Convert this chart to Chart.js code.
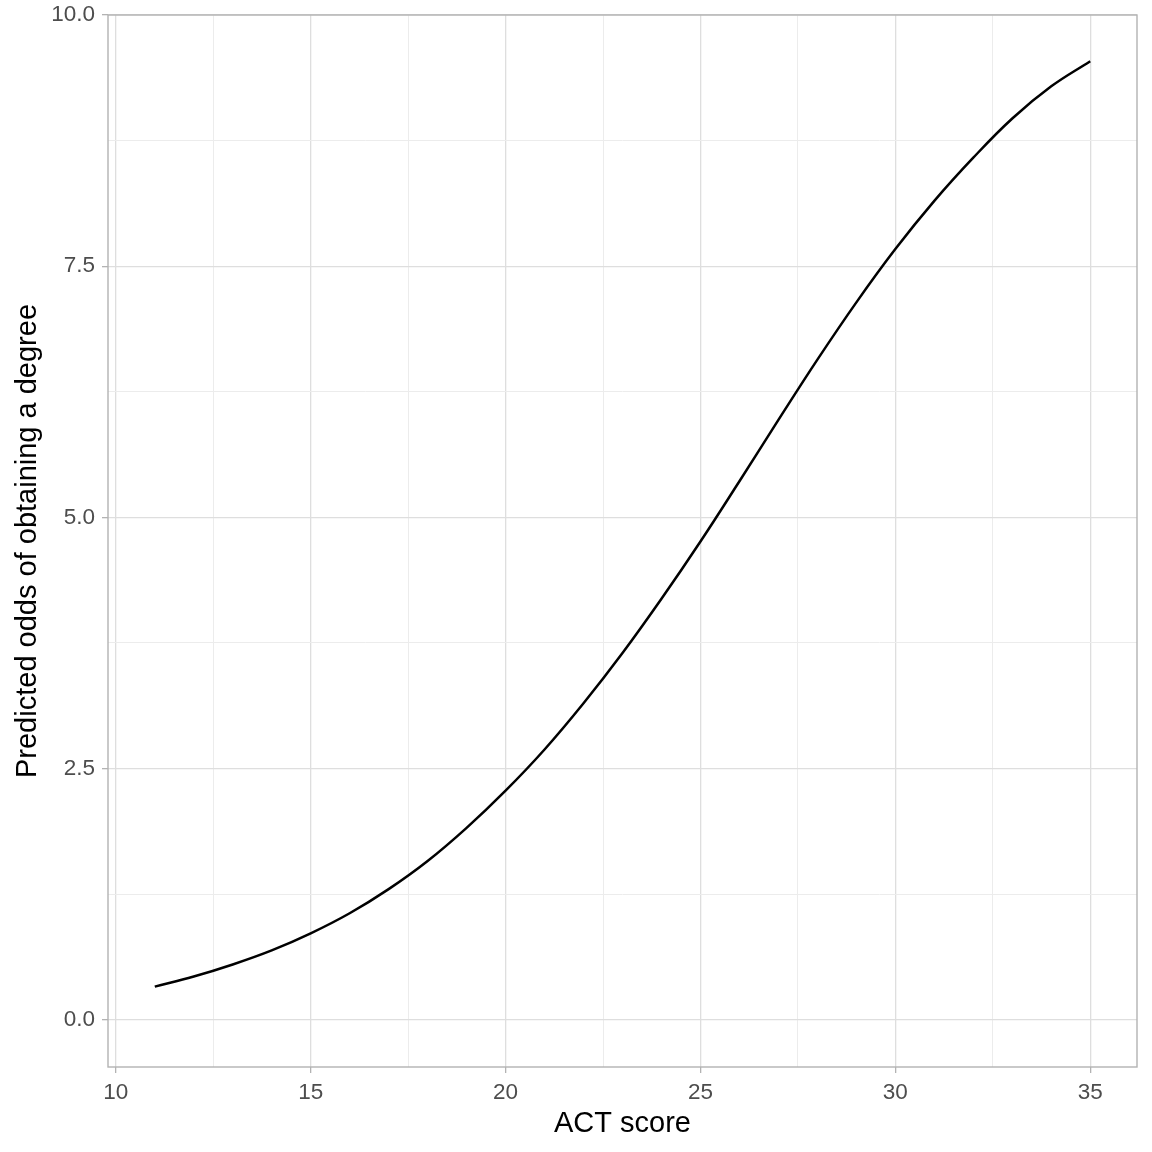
<!DOCTYPE html>
<html>
<head>
<meta charset="utf-8">
<script src="https://cdn.jsdelivr.net/npm/chart.js@4/dist/chart.umd.min.js"></script>
<style>
  html, body { margin: 0; padding: 0; background: #fff; }
  canvas { display: block; }
</style>
</head>
<body>
<canvas id="chart" width="1152" height="1152"></canvas>
<script>
// ACT score vs predicted odds
const actScores = [11, 12, 13, 14, 15, 16, 17, 18, 19, 20, 21, 22, 23, 24, 25, 26, 27, 28, 29, 30, 31, 32, 33, 34, 35];
const predictedOdds = [0.33, 0.43, 0.55, 0.69, 0.86, 1.06, 1.30, 1.58, 1.91, 2.28, 2.69, 3.15, 3.65, 4.19, 4.76, 5.36, 5.97, 6.57, 7.14, 7.67, 8.15, 8.58, 8.97, 9.29, 9.54];

const xTicks = [10, 12.5, 15, 17.5, 20, 22.5, 25, 27.5, 30, 32.5, 35];
const xMajor = [10, 15, 20, 25, 30, 35];
const yTicks = [0, 1.25, 2.5, 3.75, 5, 6.25, 7.5, 8.75, 10];
const yMajor = [0, 2.5, 5, 7.5, 10];

const xTitle = 'ACT score';
const yTitle = 'Predicted odds of obtaining a degree';

const MAJOR = '#dedede', MINOR = '#ececec', FRAME = '#b3b3b3', TEXT = '#4d4d4d';
const FONT = 'Liberation Sans, Arial, sans-serif';
const isMajor = (list, v) => list.some((m) => Math.abs(m - v) < 1e-9);

// panel frame (border on all four sides)
const framePlugin = {
  id: 'frame',
  afterDraw(chart) {
    const { ctx, chartArea: a } = chart;
    ctx.save();
    ctx.strokeStyle = FRAME;
    ctx.lineWidth = 1.4;
    ctx.strokeRect(a.left, a.top, a.right - a.left, a.bottom - a.top);
    ctx.restore();
  },
};

const gridFor = (major) => ({
  color: (c) => isMajor(major, c.tick.value) ? MAJOR : MINOR,
  lineWidth: (c) => isMajor(major, c.tick.value) ? 1.3 : 1,
  tickColor: (c) => isMajor(major, c.tick.value) ? FRAME : 'rgba(0,0,0,0)',
  tickLength: 6,
  tickWidth: 1.3,
  drawTicks: true,
});

new Chart(document.getElementById('chart'), {
  type: 'line',
  data: {
    datasets: [{
      data: actScores.map((x, i) => ({ x, y: predictedOdds[i] })),
      borderColor: '#000000',
      borderWidth: 2.5,
      pointRadius: 0,
      fill: false,
      tension: 0.4,
    }],
  },
  options: {
    responsive: false,
    devicePixelRatio: 1,
    animation: false,
    layout: { padding: { top: 15, right: 15, left: 0, bottom: 0 } },
    plugins: { legend: { display: false }, tooltip: { enabled: false } },
    scales: {
      x: {
        type: 'linear',
        min: 9.8,
        max: 36.2,
        afterBuildTicks: (s) => { s.ticks = xTicks.map((value) => ({ value })); },
        afterFit: (s) => { s.height = 85; s.paddingLeft = 0; s.paddingRight = 0; },
        grid: gridFor(xMajor),
        border: { display: false },
        ticks: {
          autoSkip: false,
          maxRotation: 0,
          padding: 6,
          color: TEXT,
          font: { family: FONT, size: 22.5 },
          callback: (v) => isMajor(xMajor, v) ? String(v) : '',
        },
        title: {
          display: true,
          text: xTitle,
          color: '#000000',
          font: { family: FONT, size: 29 },
          padding: { top: 0, bottom: 11 },
        },
      },
      y: {
        type: 'linear',
        min: -0.47,
        max: 10,
        afterBuildTicks: (s) => { s.ticks = yTicks.map((value) => ({ value })); },
        afterFit: (s) => { s.width = 108; s.paddingTop = 0; s.paddingBottom = 0; },
        grid: gridFor(yMajor),
        border: { display: false },
        ticks: {
          autoSkip: false,
          padding: 7,
          color: TEXT,
          font: { family: FONT, size: 22.5 },
          callback: (v) => isMajor(yMajor, v) ? v.toFixed(1) : '',
        },
        title: {
          display: true,
          text: yTitle,
          color: '#000000',
          font: { family: FONT, size: 29 },
          padding: { top: 11, bottom: 0 },
        },
      },
    },
  },
  plugins: [framePlugin],
});
</script>
</body>
</html>
